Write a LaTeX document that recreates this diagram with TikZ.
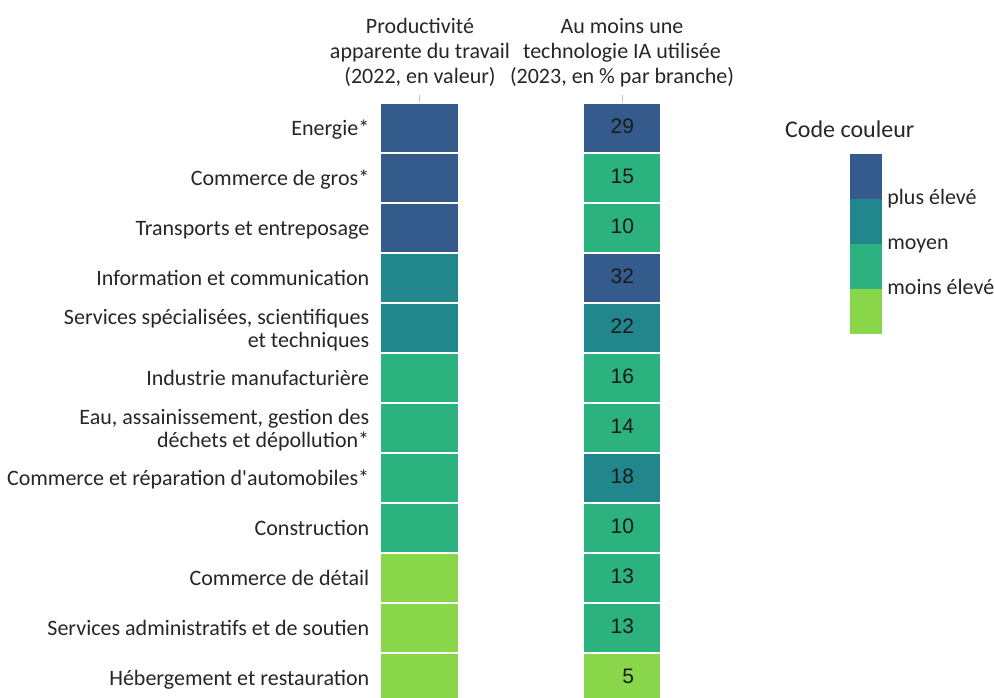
\documentclass[tikz,border=0pt]{standalone}
\usepackage{fontspec}
\setmainfont{Carlito}
\newfontfamily\numfont{Liberation Sans}
\usetikzlibrary{positioning}
\definecolor{vhigh}{RGB}{53,90,140}
\definecolor{vmid}{RGB}{33,135,140}
\definecolor{vlow}{RGB}{44,178,126}
\definecolor{vmin}{RGB}{138,214,75}
\definecolor{numtext}{RGB}{26,26,26}
\tikzset{
    cell/.style = {rectangle, draw=white, line width=1.2pt, minimum width=79pt, minimum height=50pt, inner sep=0pt},
    valcell/.style = {cell, minimum width=78pt, font=\numfont\fontsize{21}{24}\selectfont, text=numtext, text width=24pt, align=right, text height=15pt, text depth=4pt},
    rowlabel/.style = {align=right, inner sep=0pt, font=\fontsize{22}{23}\selectfont, text=black!85, text height=15pt, text depth=0pt},
    rowlabeltwo/.style = {rowlabel, text height=38pt},
    header/.style = {anchor=south, align=center, inner sep=0pt, font=\fontsize{22}{25}\selectfont, text=black!85},
    keycell/.style = {rectangle, minimum width=32pt, minimum height=45pt, inner sep=0pt},
    keylabel/.style = {anchor=base west, inner sep=0pt, font=\fontsize{22}{24}\selectfont, text=black!85},
    tick/.style = {draw=black!25, line width=1pt}
}
\begin{document}
\begin{tikzpicture}[x=1pt,y=-1pt]
\useasboundingbox (0,0) rectangle (994,697);
%
\foreach \i/\lab/\sty/\colp/\colt/\val in {
    1/{Energie*}/rowlabel/vhigh/vhigh/29,
    2/{Commerce de gros*}/rowlabel/vhigh/vlow/15,
    3/{Transports et entreposage}/rowlabel/vhigh/vlow/10,
    4/{Information et communication}/rowlabel/vmid/vhigh/32,
    5/{Services spécialisées, scientifiques\\et techniques}/rowlabeltwo/vmid/vmid/22,
    6/{Industrie manufacturière}/rowlabel/vlow/vlow/16,
    7/{Eau, assainissement, gestion des\\déchets et dépollution*}/rowlabeltwo/vlow/vlow/14,
    8/{Commerce et réparation d\textquotesingle automobiles*}/rowlabel/vlow/vmid/18,
    9/{Construction}/rowlabel/vlow/vlow/10,
    10/{Commerce de détail}/rowlabel/vmin/vlow/13,
    11/{Services administratifs et de soutien}/rowlabel/vmin/vlow/13,
    12/{Hébergement et restauration}/rowlabel/vmin/vmin/5}
{
  \node[cell,fill=\colp] (p\i) at (419.5,78+50*\i) {};
  \node[valcell,fill=\colt] (t\i) at (622,78+50*\i) {\val};
  \node[\sty,left=10pt of p\i] (l\i) {\lab};
}
%
\node[header] (hp) at (420,87) {Productivité\\apparente du travail\\(2022, en valeur)};
\node[header] (ht) at (622,87) {Au moins une\\technologie IA utilisée\\(2023, en \% par branche)};
\coordinate (tp) at (419.5,95);
\coordinate (tt) at (622,95);
\draw[tick] (tp) -- (p1.north);
\draw[tick] (tt) -- (t1.north);
%
\node[anchor=base west,inner sep=0pt,font=\fontsize{24}{26}\selectfont,text=black!85] (key) at (785,137) {Code couleur};
\foreach \i/\c in {1/vhigh,2/vmid,3/vlow,4/vmin}
  \node[keycell,fill=\c] (k\i) at (866,131+45*\i) {};
\node[keylabel] (kh) at ([xshift=5pt,yshift=-6pt]k1.south east) {plus élevé};
\node[keylabel] (km) at ([xshift=5pt,yshift=-6pt]k2.south east) {moyen};
\node[keylabel] (kl) at ([xshift=5pt,yshift=-6pt]k3.south east) {moins élevé};

\end{tikzpicture}
\end{document}
